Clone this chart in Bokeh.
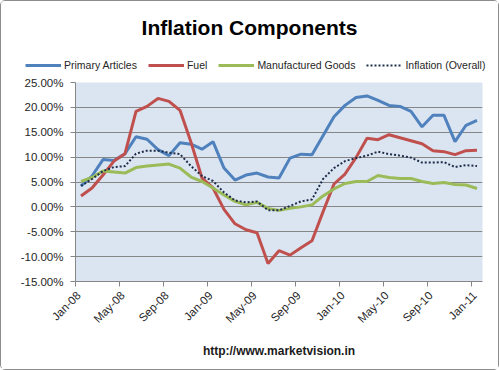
import math
from bokeh.plotting import figure
from bokeh.layouts import column
from bokeh.models import (ColumnDataSource, FixedTicker, PrintfTickFormatter, Title, Label,
                          Legend, LegendItem)
from bokeh.embed import file_html
from bokeh.resources import INLINE

months = ["Jan-08","Feb-08","Mar-08","Apr-08","May-08","Jun-08","Jul-08","Aug-08","Sep-08","Oct-08","Nov-08","Dec-08",
          "Jan-09","Feb-09","Mar-09","Apr-09","May-09","Jun-09","Jul-09","Aug-09","Sep-09","Oct-09","Nov-09","Dec-09",
          "Jan-10","Feb-10","Mar-10","Apr-10","May-10","Jun-10","Jul-10","Aug-10","Sep-10","Oct-10","Nov-10","Dec-10",
          "Jan-11"]
primary = [4.2, 6.2, 9.5, 9.3, 10.7, 14.1, 13.6, 11.5, 10.3, 12.9, 12.6, 11.6, 13.1, 7.8, 5.4, 6.4, 6.8,
           6.0, 5.8, 9.8, 10.6, 10.5, 14.3, 18.1, 20.4, 22.0, 22.3, 21.4, 20.4, 20.2, 19.2, 16.1, 18.4, 18.4,
           13.1, 16.4, 17.4]
fuel = [2.2, 3.8, 6.4, 9.2, 10.7, 19.2, 20.2, 21.8, 21.2, 19.4, 13.0, 5.8, 3.8, -0.5, -3.4, -4.6, -5.2,
        -11.4, -8.8, -9.7, -8.2, -6.8, -1.0, 4.6, 6.6, 9.9, 13.8, 13.5, 14.5, 13.9, 13.3, 12.7, 11.3, 11.1,
        10.5, 11.3, 11.4]
manuf = [5.1, 5.9, 7.2, 7.0, 6.8, 7.9, 8.2, 8.4, 8.6, 7.8, 6.0, 5.1, 3.8, 2.4, 1.1, 0.4, 0.9,
         -0.3, -0.7, -0.3, 0.0, 0.4, 2.2, 3.6, 4.7, 5.1, 5.1, 6.3, 5.9, 5.7, 5.7, 5.1, 4.7, 4.9,
         4.5, 4.4, 3.7]
overall = [4.2, 5.6, 7.2, 8.0, 8.2, 10.7, 11.3, 11.3, 10.9, 10.6, 8.2, 6.2, 5.2, 2.9, 1.3, 0.9, 1.1,
           -0.7, -0.7, 0.2, 1.1, 1.5, 5.6, 7.8, 9.2, 9.8, 10.3, 11.1, 10.6, 10.3, 9.9, 8.9, 8.9, 9.0,
           8.0, 8.4, 8.2]
series_names = ["Primary Articles", "Fuel", "Manufactured Goods", "Inflation (Overall)"]
series_cols = ["primary", "fuel", "manuf", "overall"]
tick_labels = ["Jan-08","May-08","Sep-08","Jan-09","May-09","Sep-09","Jan-10","May-10","Sep-10","Jan-11"]
y_ticks = [-15, -10, -5, 0, 5, 10, 15, 20, 25]

FONT = "Liberation Sans"
TXT = "#262626"
COLORS = ["#4f81bd", "#c0504d", "#9bbb59", "#1f2d4a"]
WIDTHS = [3, 3, 3, 2]
DASHES = ["solid", "solid", "solid", "2 2"]

W = 497
H_HEAD = 75
H_MAIN = 293

x = [i + 0.5 for i in range(len(months))]
src = ColumnDataSource(dict(x=x, primary=primary, fuel=fuel, manuf=manuf, overall=overall))

# ---- header: title + legend (its renderers lie outside its visible range) ----
head = figure(width=W, height=H_HEAD, output_backend="svg", toolbar_location=None,
              x_range=(0, 1), y_range=(1000, 1001), min_border=0,
              x_axis_location=None, y_axis_location=None)
head.grid.visible = False
head.outline_line_color = None
head.background_fill_color = "white"
head.border_fill_color = "white"

head_items = []
for name, colname, c, w, d in zip(series_names, series_cols, COLORS, WIDTHS, DASHES):
    r = head.line("x", colname, source=src, line_color=c, line_width=w, line_dash=d)
    head_items.append(LegendItem(label=name, renderers=[r]))

legend = Legend(items=head_items, orientation="horizontal", location=(24, 5),
                padding=0, margin=0, spacing=11, glyph_width=36, glyph_height=12,
                label_standoff=3, label_height=12,
                border_line_color=None, background_fill_alpha=0,
                label_text_font=FONT, label_text_font_size="10.5px", label_text_color=TXT)
head.add_layout(legend, "center")

head.add_layout(Label(x=248, y=49.5, x_units="screen", y_units="screen", text="Inflation Components",
                      text_font=FONT, text_font_size="21px", text_font_style="bold",
                      text_align="center", text_baseline="middle", text_color="#000000"))

# ---- main chart ----
p = figure(width=W, height=H_MAIN, output_backend="svg", toolbar_location=None,
           x_range=(0, len(months)), y_range=(-15, 25),
           min_border_left=74, min_border_right=16, min_border_top=6, min_border_bottom=88)
p.background_fill_color = "#dbe5f1"
p.border_fill_color = "white"
p.outline_line_color = None

p.xgrid.grid_line_color = None
p.ygrid.grid_line_color = "#868686"
p.ygrid.grid_line_width = 1
p.ygrid.ticker = FixedTicker(ticks=y_ticks)

p.yaxis.ticker = FixedTicker(ticks=y_ticks)
p.yaxis.formatter = PrintfTickFormatter(format="%.2f%%")
p.yaxis.minor_tick_line_color = None
p.yaxis.major_tick_in = 0
p.yaxis.major_tick_out = 5
p.yaxis.axis_line_color = "#868686"
p.yaxis.major_tick_line_color = "#868686"
p.yaxis.major_label_text_font = FONT
p.yaxis.major_label_text_font_size = "11.5px"
p.yaxis.major_label_text_color = TXT
p.yaxis.major_label_standoff = 7

# labels sit slightly right of the category boundaries, tick marks on the boundaries
label_pos = [i * 4 + 0.3 for i in range(len(tick_labels))]
boundary_pos = [i * 4 for i in range(len(tick_labels))]
p.xaxis.ticker = FixedTicker(ticks=label_pos, minor_ticks=boundary_pos)
p.xaxis.major_label_overrides = {t: l for t, l in zip(label_pos, tick_labels)}
p.xaxis.major_label_orientation = math.pi / 4
p.xaxis.major_tick_line_color = None
p.xaxis.major_tick_in = 0
p.xaxis.major_tick_out = 0
p.xaxis.minor_tick_line_color = "#868686"
p.xaxis.minor_tick_in = 0
p.xaxis.minor_tick_out = 5
p.xaxis.axis_line_color = "#868686"
p.xaxis.major_label_text_font = FONT
p.xaxis.major_label_text_font_size = "11.5px"
p.xaxis.major_label_text_color = TXT
p.xaxis.major_label_standoff = 7

for colname, c, w, d in zip(series_cols, COLORS, WIDTHS, DASHES):
    p.line("x", colname, source=src, line_color=c, line_width=w, line_dash=d)

footer = Title(text="http://www.marketvision.in", align="center", standoff=18,
               text_font=FONT, text_font_size="12px", text_font_style="bold", text_color="#1a1a1a")
p.add_layout(footer, "below")

layout = column(column(head), p, spacing=0)
layout.styles = {"border": "1px solid #8c8c8c", "border-radius": "5px"}

open("out.html", "w").write(file_html(layout, INLINE))
